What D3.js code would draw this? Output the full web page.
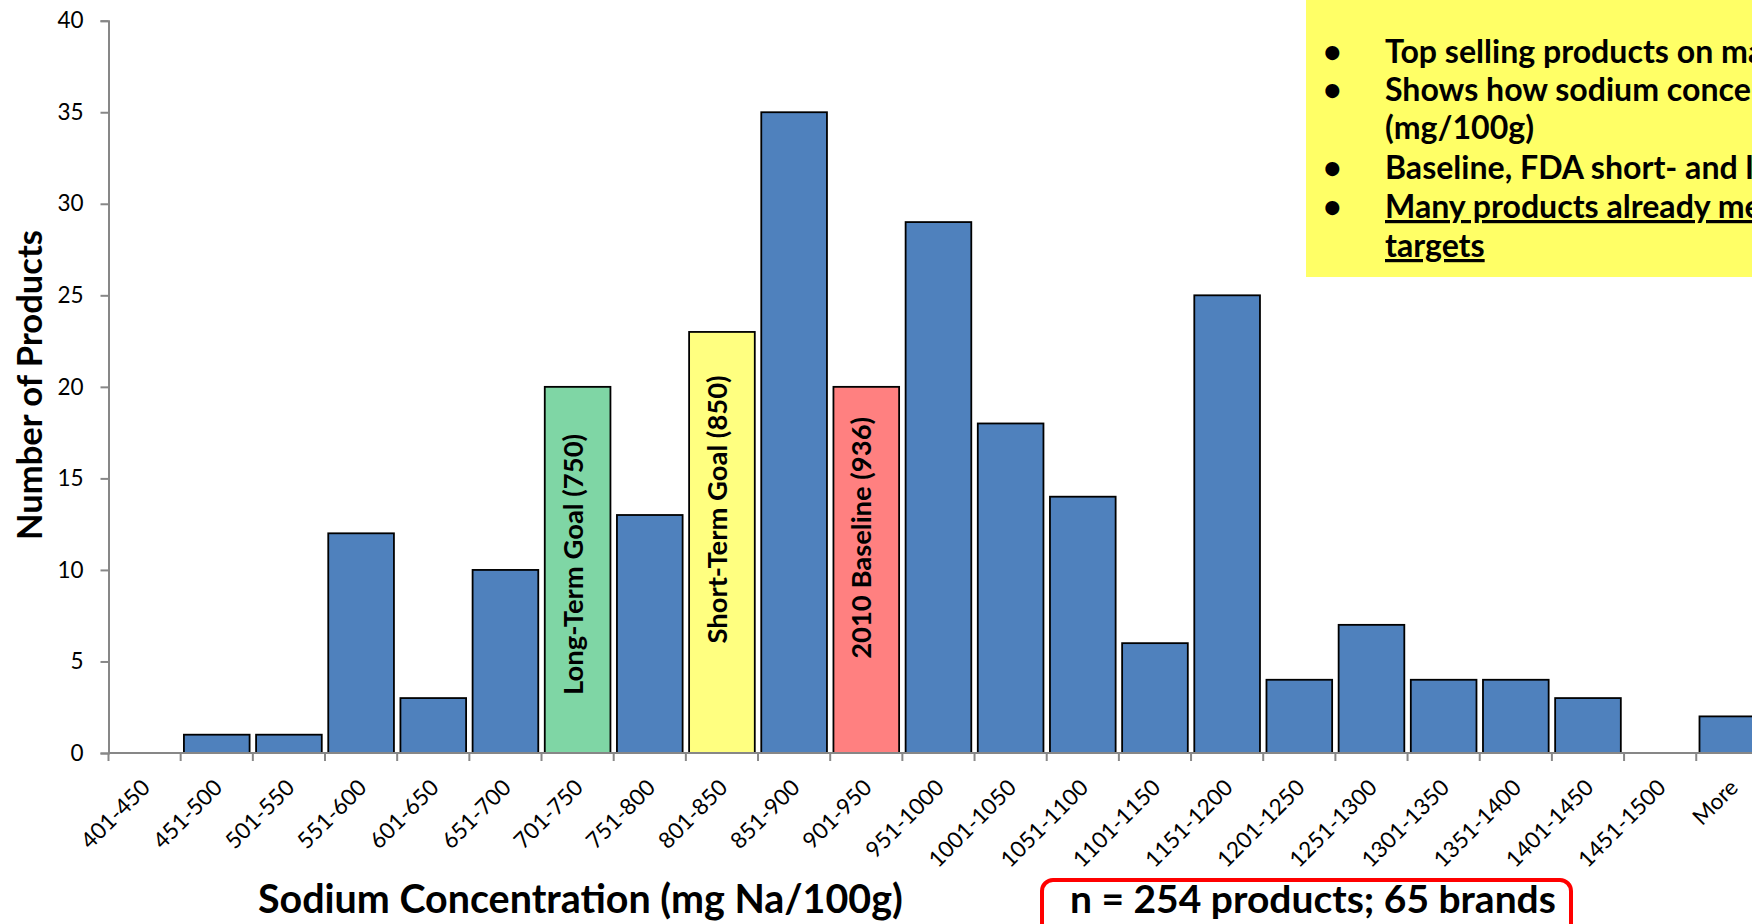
<!DOCTYPE html>
<html>
<head>
<meta charset="utf-8">
<script src="https://cdn.jsdelivr.net/npm/d3@7"></script>
<style>
  html, body { margin: 0; padding: 0; background: #fff; overflow: hidden; }
  svg { display: block; }
  text { font-family: Lato, "Open Sans", "Liberation Sans", sans-serif; }
</style>
</head>
<body>
<svg id="chart" width="1752" height="924"></svg>
<script>
// ---------------- data ----------------
const categories = ["401-450","451-500","501-550","551-600","601-650","651-700","701-750","751-800",
  "801-850","851-900","901-950","951-1000","1001-1050","1051-1100","1101-1150","1151-1200",
  "1201-1250","1251-1300","1301-1350","1351-1400","1401-1450","1451-1500","More"];
const productCounts = [0,1,1,12,3,10,20,13,23,35,20,29,18,14,6,25,4,7,4,4,3,0,2];
const yTicks = [0,5,10,15,20,25,30,35,40];
const highlightBins = ["701-750","801-850","901-950"];
const highlightLabels = ["Long-Term Goal (750)","Short-Term Goal (850)","2010 Baseline (936)"];
const highlightLabelCenters = [10.3, 13.3, 11.75]; // label centre, in product-count units
const yTitle = "Number of Products";
const xTitle = "Sodium Concentration (mg Na/100g)";
const sampleNote = "n = 254 products; 65 brands";
const noteLines = ["Top selling products on market",
  "Shows how sodium concentrations vary",
  "(mg/100g)",
  "Baseline, FDA short- and long-term targets",
  "Many products already meet the FDA",
  "targets"];
const noteBullets = [true, true, false, true, true, false];
const noteUnderline = [false, false, false, false, true, true];

// ---------------- styles ----------------
const BLUE = "#4F81BD";
const highlightFills = ["#7FD6A5", "#FFFF80", "#FF8080"];
const AXIS = "#878787";

const svg = d3.select("#chart");

function fit(sel, target) {
  const fs = parseFloat(sel.attr("font-size"));
  const w = sel.node().getComputedTextLength();
  sel.attr("font-size", (fs * target / w).toFixed(2));
  return sel;
}

// ---------------- scales ----------------
const x0 = 108.5, step = 72.17;
const x = d3.scaleBand().domain(categories)
  .range([x0, x0 + step * categories.length])
  .paddingInner(0.09).paddingOuter(0.045);
const y = d3.scaleLinear().domain([0, 40]).range([753, 20.7]);

// ---------------- yellow note box ----------------
svg.append("rect").attr("x", 1306).attr("y", -2).attr("width", 480).attr("height", 279)
  .attr("fill", "#FFFF66");
const noteBaselines = [63, 101, 139, 179, 218, 257];
const noteG = svg.append("g");
const probe = noteG.append("text").attr("font-size", 34).attr("font-weight", "bold").text("(mg/100g)");
fit(probe, 149);
const noteFs = probe.attr("font-size");
probe.remove();
noteLines.forEach((t, i) => {
  if (noteBullets[i]) {
    noteG.append("text").attr("x", 1323).attr("y", noteBaselines[i])
      .attr("font-size", noteFs).attr("font-weight", "bold").text("\u2022");
  }
  noteG.append("text").attr("x", 1385).attr("y", noteBaselines[i])
    .attr("font-size", noteFs).attr("font-weight", "bold")
    .attr("text-decoration", noteUnderline[i] ? "underline" : null)
    .attr("fill", "#000").text(t);
});

// ---------------- bars ----------------
const data = categories.map((c, i) => ({ c, v: productCounts[i] }));
svg.append("g").selectAll("rect").data(data.filter(d => d.v > 0)).join("rect")
  .attr("x", d => x(d.c)).attr("width", x.bandwidth())
  .attr("y", d => y(d.v)).attr("height", d => y(0) - y(d.v))
  .attr("fill", d => {
    const k = highlightBins.indexOf(d.c);
    return k >= 0 ? highlightFills[k] : BLUE;
  })
  .attr("stroke", "#000").attr("stroke-width", 1.8);

// labels inside highlighted bars
const lblG = svg.append("g");
let lblFs = null;
highlightBins.forEach((c, k) => {
  const cx = x(c) + x.bandwidth() / 2 + 5;
  const cy = y(highlightLabelCenters[k]);
  const t = lblG.append("text")
    .attr("transform", `translate(${cx},${cy}) rotate(-90)`)
    .attr("text-anchor", "middle").attr("font-weight", "bold")
    .attr("font-size", 26).text(highlightLabels[k]);
  if (k === 0) { fit(t, 261); lblFs = t.attr("font-size"); }
  else t.attr("font-size", lblFs);
});

// ---------------- axes ----------------
const yAxis = d3.axisLeft(y).tickValues(yTicks).tickSize(8).tickPadding(17).tickFormat(d3.format("d"));
const gy = svg.append("g").attr("transform", `translate(${x0},0)`).call(yAxis);
gy.select(".domain").attr("stroke", AXIS).attr("stroke-width", 2);
gy.selectAll(".tick line").attr("stroke", AXIS).attr("stroke-width", 2);
gy.selectAll(".tick text").attr("font-size", 22.5).attr("fill", "#000")
  .attr("font-family", "Lato, 'Open Sans', sans-serif");

// x axis: baseline + boundary ticks
const gx = svg.append("g");
gx.append("line").attr("x1", x0).attr("x2", x0 + step * categories.length)
  .attr("y1", y(0)).attr("y2", y(0)).attr("stroke", AXIS).attr("stroke-width", 2);
const boundaries = categories.map(c => x(c) - x.step() * x.paddingInner() / 2);
gx.selectAll("line.tk").data(boundaries).join("line").attr("class", "tk")
  .attr("x1", d => d).attr("x2", d => d).attr("y1", y(0)).attr("y2", y(0) + 8)
  .attr("stroke", AXIS).attr("stroke-width", 2);
gx.selectAll("text").data(categories).join("text")
  .attr("transform", d => `translate(${x(d) + x.bandwidth() / 2 + 7},${y(0) + 36}) rotate(-45)`)
  .attr("text-anchor", "end").attr("font-size", 22.5).attr("fill", "#000").text(d => d);

// ---------------- titles ----------------
const yt = svg.append("text").attr("transform", "translate(41.5,385) rotate(-90)")
  .attr("text-anchor", "middle").attr("font-weight", "bold").attr("font-size", 34).text(yTitle);
fit(yt, 310);
const xt = svg.append("text").attr("x", 258).attr("y", 913)
  .attr("font-weight", "bold").attr("font-size", 40).text(xTitle);
fit(xt, 645);

// ---------------- sample-size note ----------------
svg.append("rect").attr("x", 1042).attr("y", 880).attr("width", 529).attr("height", 80)
  .attr("rx", 11).attr("fill", "none").attr("stroke", "#FF0000").attr("stroke-width", 4);
const nt = svg.append("text").attr("x", 1070).attr("y", 913)
  .attr("font-weight", "bold").attr("font-size", 40).text(sampleNote);
fit(nt, 486);
</script>
</body>
</html>
